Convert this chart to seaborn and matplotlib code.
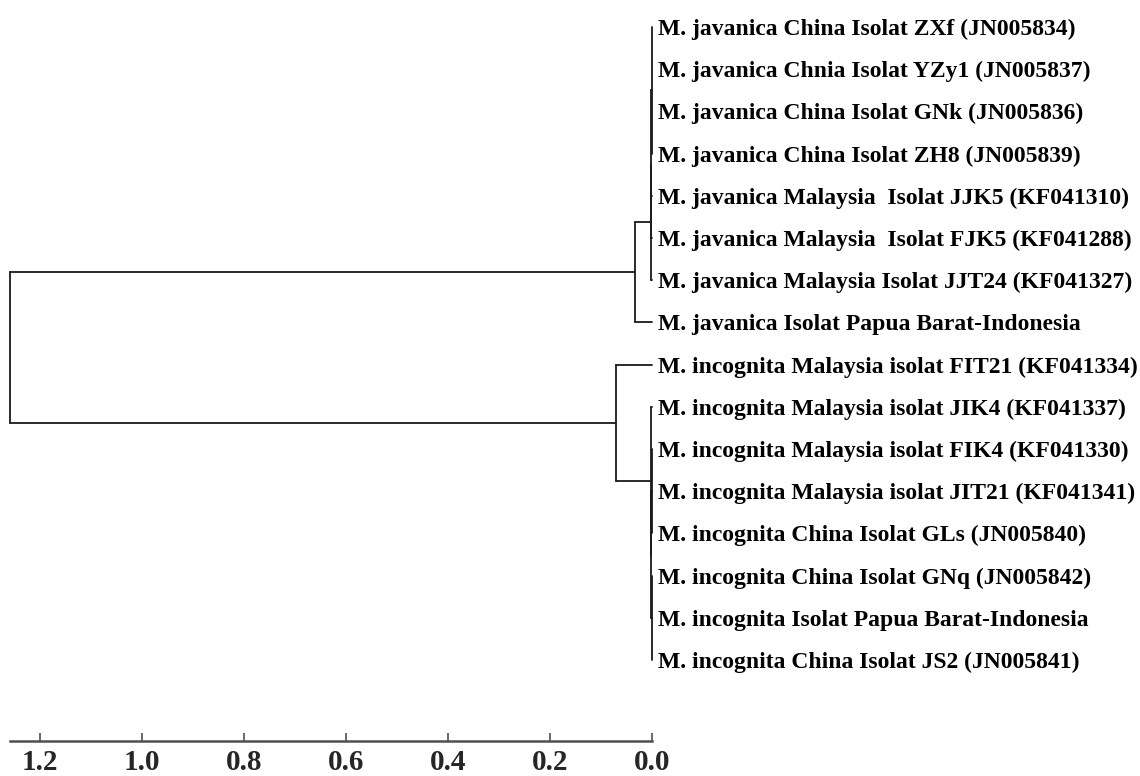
import matplotlib
matplotlib.use("Agg")
import matplotlib.pyplot as plt
import seaborn as sns
import pandas as pd

# ---------------- data ----------------
leaf_labels = [
    "M. javanica China Isolat ZXf (JN005834)",
    "M. javanica Chnia Isolat YZy1 (JN005837)",
    "M. javanica China Isolat GNk (JN005836)",
    "M. javanica China Isolat ZH8 (JN005839)",
    "M. javanica Malaysia  Isolat JJK5 (KF041310)",
    "M. javanica Malaysia  Isolat FJK5 (KF041288)",
    "M. javanica Malaysia Isolat JJT24 (KF041327)",
    "M. javanica Isolat Papua Barat-Indonesia",
    "M. incognita Malaysia isolat FIT21 (KF041334)",
    "M. incognita Malaysia isolat JIK4 (KF041337)",
    "M. incognita Malaysia isolat FIK4 (KF041330)",
    "M. incognita Malaysia isolat JIT21 (KF041341)",
    "M. incognita China Isolat GLs (JN005840)",
    "M. incognita China Isolat GNq (JN005842)",
    "M. incognita Isolat Papua Barat-Indonesia",
    "M. incognita China Isolat JS2 (JN005841)",
]

# node heights (distance)
root_height = 1.259
javanica_height = 0.0333
incognita_height = 0.0706
sub_heights = [0.0005, 0.0010, 0.0015]

# tree topology: (height, [children]); integers are leaf indices
javanica_sub = (sub_heights[2], [(sub_heights[1], [(sub_heights[0], [0, 1, 2, 3]), 4, 5]), 6])
javanica_clade = (javanica_height, [javanica_sub, 7])
incognita_sub = (sub_heights[2], [9, (sub_heights[1], [(sub_heights[0], [10, 11, 12]),
                                                       (sub_heights[0], [13, 14, 15])])])
incognita_clade = (incognita_height, [8, incognita_sub])
tree = (root_height, [javanica_clade, incognita_clade])

tick_values = [1.2, 1.0, 0.8, 0.6, 0.4, 0.2, 0.0]
tick_labels = ["1.2", "1.0", "0.8", "0.6", "0.4", "0.2", "0.0"]

# ---------------- build segments ----------------
segments = []


def walk(node):
    """Return (x, y) of node, appending line segments."""
    if isinstance(node, int):
        return 0.0, float(node)
    h, children = node
    pts = [walk(c) for c in children]
    for cx, cy in pts:
        segments.append([(cx, cy), (h, cy)])
    y0, y1 = pts[0][1], pts[-1][1]
    segments.append([(h, y0), (h, y1)])
    return h, (y0 + y1) / 2.0


root_x, root_y = walk(tree)

rows = []
for sid, seg in enumerate(segments):
    for x, y in seg:
        rows.append({"x": x, "y": y, "seg": sid})
df = pd.DataFrame(rows)

# ---------------- plot ----------------
sns.set_theme(style="white")
plt.rcParams["font.family"] = ["Liberation Serif", "DejaVu Serif"]
plt.rcParams["font.weight"] = "bold"

W, H = 1140, 776
px_per_unit = 510.0
x_zero_px = 652.0
y0_px, y_step = 27.0, 42.2
axis_px = 741.0

fig = plt.figure(figsize=(W / 100, H / 100), dpi=100)
ax = fig.add_axes([0, 0, 1, 1])

sns.lineplot(data=df, x="x", y="y", units="seg", estimator=None, sort=False,
             color="#1a1a1a", linewidth=1.3, ax=ax, legend=False)

for i, lab in enumerate(leaf_labels):
    ax.annotate(lab, xy=(0, i), xytext=(4.3, 0), textcoords="offset points",
                ha="left", va="center_baseline", fontsize=17, fontweight="bold",
                color="black")

ax.set_xlim(x_zero_px / px_per_unit, (x_zero_px - W) / px_per_unit)
ax.set_ylim((H - y0_px) / y_step, -y0_px / y_step)
ax.set_xlabel("")
ax.set_ylabel("")

for s in ["top", "left", "right"]:
    ax.spines[s].set_visible(False)
ax.spines["bottom"].set_position(("data", (axis_px - y0_px) / y_step))
ax.spines["bottom"].set_bounds(0, root_height)
ax.spines["bottom"].set_color("#505050")
ax.spines["bottom"].set_linewidth(1.8)

ax.set_xticks(tick_values)
ax.set_xticklabels(tick_labels)
ax.set_yticks([])
ax.tick_params(axis="x", direction="in", length=6, width=1.2, color="#505050",
               pad=6, labelsize=21, bottom=True)
for t in ax.get_xticklabels():
    t.set_fontweight("bold")

fig.savefig("out.png", dpi=100, facecolor="white")
